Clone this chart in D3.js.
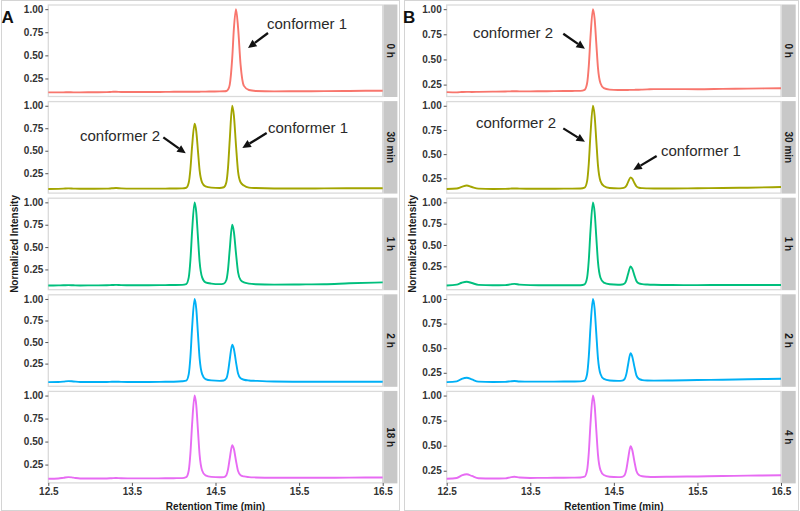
<!DOCTYPE html>
<html><head><meta charset="utf-8">
<script src="https://cdn.jsdelivr.net/npm/d3@7"></script>
<style>
body{margin:0;background:#fff;}
svg{display:block;font-family:"Liberation Sans",Arial,Helvetica,sans-serif;}
</style>
</head><body>
<svg id="c" width="800" height="511"></svg>
<script>
// ---------------- data ----------------
const times = [12.50,12.62,12.68,12.74,12.80,12.88,13.05,13.20,13.26,13.31,13.37,13.50,13.70,13.90,14.00,
  14.10,14.15,14.18,14.20,14.22,14.25,14.27,14.29,14.31,14.34,14.38,14.45,14.55,
  14.60,14.63,14.65,14.67,14.70,14.72,14.745,14.77,14.80,14.84,14.90,14.98,
  15.20,15.50,15.80,16.10,16.50];

const panelLabelsA = ["0 h","30 min","1 h","2 h","18 h"];
const panelLabelsB = ["0 h","30 min","1 h","2 h","4 h"];
const seriesColors = ["#F8766D","#A3A500","#00BF7D","#00B0F6","#E76BF3"];
const xTicks = [12.5,13.5,14.5,15.5,16.5];
const yTicks = [0.25,0.50,0.75,1.00];

// Figure A
const intensityA_0h = [0.100,0.100,0.100,0.101,0.100,0.100,0.101,0.102,0.105,0.107,0.104,0.103,0.103,0.105,0.106,
  0.107,0.107,0.107,0.107,0.107,0.107,0.107,0.107,0.107,0.108,0.108,0.109,0.110,
  0.112,0.115,0.130,0.180,0.470,0.790,1.000,0.800,0.400,0.170,0.125,0.115,
  0.110,0.112,0.113,0.115,0.118];
const intensityA_30min = [0.075,0.076,0.078,0.081,0.079,0.077,0.077,0.078,0.082,0.085,0.081,0.078,0.078,0.079,0.080,
  0.081,0.088,0.146,0.297,0.549,0.800,0.715,0.499,0.281,0.146,0.103,0.090,0.086,
  0.094,0.149,0.314,0.615,1.000,0.890,0.561,0.268,0.149,0.112,0.090,0.085,
  0.080,0.080,0.081,0.082,0.083];
const intensityA_1h = [0.070,0.072,0.073,0.075,0.073,0.071,0.072,0.073,0.076,0.078,0.075,0.073,0.073,0.075,0.076,
  0.078,0.087,0.161,0.355,0.677,1.000,0.889,0.613,0.336,0.161,0.106,0.092,0.086,
  0.092,0.132,0.251,0.471,0.750,0.670,0.431,0.218,0.132,0.105,0.092,0.085,
  0.080,0.082,0.085,0.095,0.105];
const intensityA_2h = [0.035,0.037,0.041,0.047,0.043,0.037,0.036,0.037,0.039,0.040,0.038,0.037,0.037,0.039,0.040,
  0.045,0.052,0.128,0.329,0.665,1.000,0.885,0.598,0.310,0.128,0.071,0.055,0.050,
  0.054,0.079,0.155,0.294,0.470,0.420,0.268,0.134,0.079,0.063,0.054,0.050,
  0.042,0.040,0.039,0.039,0.040];
const intensityA_18h = [0.096,0.099,0.106,0.114,0.108,0.099,0.098,0.099,0.102,0.104,0.101,0.100,0.100,0.101,0.102,
  0.103,0.114,0.186,0.374,0.687,1.000,0.893,0.624,0.356,0.186,0.132,0.116,0.112,
  0.114,0.135,0.198,0.313,0.460,0.418,0.292,0.180,0.135,0.121,0.114,0.110,
  0.106,0.106,0.107,0.108,0.110];

// Figure B
const intensityB_0h = [0.175,0.173,0.176,0.178,0.177,0.178,0.180,0.182,0.183,0.184,0.183,0.183,0.184,0.186,0.187,
  0.188,0.198,0.263,0.433,0.717,1.000,0.903,0.660,0.417,0.263,0.214,0.200,0.196,
  0.196,0.196,0.197,0.197,0.198,0.198,0.198,0.199,0.199,0.200,0.202,0.205,
  0.205,0.204,0.207,0.210,0.214];
const intensityB_30min = [0.140,0.145,0.162,0.175,0.160,0.143,0.140,0.141,0.143,0.145,0.143,0.142,0.142,0.143,0.143,
  0.144,0.153,0.221,0.401,0.700,1.000,0.897,0.640,0.384,0.221,0.170,0.150,0.146,
  0.148,0.155,0.173,0.211,0.260,0.246,0.204,0.167,0.152,0.148,0.146,0.145,
  0.145,0.147,0.150,0.153,0.160];
const intensityB_1h = [0.025,0.035,0.058,0.070,0.055,0.033,0.028,0.030,0.038,0.045,0.036,0.030,0.028,0.028,0.028,
  0.029,0.040,0.117,0.321,0.660,1.000,0.884,0.593,0.302,0.117,0.059,0.040,0.035,
  0.037,0.050,0.089,0.160,0.250,0.224,0.147,0.078,0.050,0.041,0.037,0.034,
  0.031,0.030,0.031,0.031,0.032];
const intensityB_2h = [0.155,0.163,0.188,0.200,0.183,0.160,0.157,0.158,0.163,0.167,0.162,0.160,0.160,0.161,0.162,
  0.163,0.171,0.238,0.414,0.707,1.000,0.900,0.648,0.397,0.238,0.188,0.172,0.168,
  0.171,0.188,0.239,0.332,0.450,0.416,0.315,0.224,0.188,0.176,0.171,0.170,
  0.172,0.176,0.180,0.184,0.190];
const intensityB_4h = [0.170,0.178,0.203,0.215,0.198,0.175,0.172,0.174,0.184,0.190,0.182,0.178,0.179,0.180,0.181,
  0.182,0.190,0.256,0.427,0.714,1.000,0.902,0.656,0.411,0.256,0.207,0.190,0.186,
  0.189,0.208,0.263,0.365,0.495,0.458,0.347,0.248,0.208,0.195,0.190,0.188,
  0.190,0.193,0.197,0.201,0.205];

// annotations (in data units: retention time, intensity of the panel)
const notesA = [
  {panel:0, label:"conformer 1", t:15.116, v:0.780, tailT:15.128, tailV:0.742, headT:14.889, headV:0.579},
  {panel:1, label:"conformer 2", t:12.879, v:0.612, tailT:13.876, tailV:0.649, headT:14.144, headV:0.471},
  {panel:1, label:"conformer 1", t:15.128, v:0.697, tailT:15.112, tailV:0.697, headT:14.821, headV:0.531}
];
const notesB = [
  {panel:0, label:"conformer 2", t:12.815, v:0.714, tailT:13.895, tailV:0.755, headT:14.154, headV:0.607},
  {panel:1, label:"conformer 2", t:12.850, v:0.765, tailT:13.895, tailV:0.766, headT:14.154, headV:0.627},
  {panel:1, label:"conformer 1", t:15.063, v:0.481, tailT:15.012, tailV:0.481, headT:14.732, headV:0.336}
];

// ---------------- drawing ----------------
const svg = d3.select("#c");
const FONT = '"Liberation Sans",Arial,Helvetica,sans-serif';
const PANEL_TOP = 5, PANEL_H = 91.5, PANEL_STEP = 96.6, STRIP_W = 14;

const figures = [
  {letter:"A", letterX:1.5, left:48.3, right:382.7, frameX:1, frameW:398, titleX:14,
   labels:panelLabelsA, series:[intensityA_0h,intensityA_30min,intensityA_1h,intensityA_2h,intensityA_18h], notes:notesA},
  {letter:"B", letterX:403, left:446.7, right:781, frameX:404, frameW:394, titleX:412,
   labels:panelLabelsB, series:[intensityB_0h,intensityB_30min,intensityB_1h,intensityB_2h,intensityB_4h], notes:notesB}
];

function arrow(g, x1, y1, x2, y2){
  const ang = Math.atan2(y2-y1, x2-x1);
  const L = 8.5, W = 4;
  const bx = x2 - L*Math.cos(ang), by = y2 - L*Math.sin(ang);
  g.append("line").attr("x1",x1).attr("y1",y1).attr("x2",bx).attr("y2",by)
    .attr("stroke","#111").attr("stroke-width",2.3);
  g.append("polygon").attr("points",[
    [x2,y2],
    [bx + W*Math.sin(ang), by - W*Math.cos(ang)],
    [bx - W*Math.sin(ang), by + W*Math.cos(ang)]
  ].map(p=>p.join(",")).join(" ")).attr("fill","#111");
}

figures.forEach(fig => {
  const g = svg.append("g");
  g.append("rect").attr("x",fig.frameX+0.5).attr("y",0.5).attr("width",fig.frameW).attr("height",510)
    .attr("fill","none").attr("stroke","#d4d4d4").attr("stroke-width",1);

  const x = d3.scaleLinear().domain([12.5,16.5]).range([fig.left, fig.right]);

  fig.series.forEach((vals, i) => {
    const top = PANEL_TOP + i*PANEL_STEP, bottom = top + PANEL_H;
    const [mn, mx] = d3.extent(vals);
    const pad = 0.05*(mx-mn);
    const y = d3.scaleLinear().domain([mn-pad, mx+pad]).range([bottom, top]);

    g.append("rect").attr("x",fig.left).attr("y",top).attr("width",fig.right-fig.left).attr("height",PANEL_H)
      .attr("fill","#fff").attr("stroke","#dadada").attr("stroke-width",1.3);

    const pts = times.map((t,k)=>[t, vals[k]]);
    g.append("path").datum(pts)
      .attr("d", d3.line().x(d=>x(d[0])).y(d=>y(d[1])).curve(d3.curveMonotoneX))
      .attr("fill","none").attr("stroke",seriesColors[i]).attr("stroke-width",1.9)
      .attr("stroke-linejoin","round");

    const ya = g.append("g").attr("transform",`translate(${fig.left},0)`)
      .call(d3.axisLeft(y).tickValues(yTicks).tickFormat(d3.format(".2f")).tickSize(3).tickPadding(2));
    ya.attr("font-family",FONT).attr("font-size",10);
    ya.select(".domain").remove();
    ya.selectAll(".tick line").attr("stroke","#555");
    ya.selectAll(".tick text").attr("font-weight","bold").attr("fill","#333");

    g.append("rect").attr("x",fig.right+0.7).attr("y",top-0.5).attr("width",STRIP_W).attr("height",PANEL_H+1)
      .attr("fill","#c8c8c8");
    g.append("text")
      .attr("transform",`translate(${fig.right+0.7+STRIP_W/2},${top+PANEL_H/2}) rotate(90)`)
      .attr("text-anchor","middle").attr("dy","0.35em")
      .attr("font-size",10).attr("font-weight","bold").attr("fill","#1a1a1a")
      .text(fig.labels[i]);

    fig.notes.filter(n=>n.panel===i).forEach(n => {
      g.append("text").attr("x",x(n.t)).attr("y",y(n.v))
        .attr("font-size",15).attr("fill","#2a2a2a").text(n.label);
      arrow(g, x(n.tailT), y(n.tailV), x(n.headT), y(n.headV));
    });

    if (i === fig.series.length-1) {
      const xa = g.append("g").attr("transform",`translate(0,${bottom})`)
        .call(d3.axisBottom(x).tickValues(xTicks).tickFormat(d3.format(".1f")).tickSize(3).tickPadding(2.2));
      xa.attr("font-family",FONT).attr("font-size",10);
      xa.select(".domain").remove();
      xa.selectAll(".tick line").attr("stroke","#555");
      xa.selectAll(".tick text").attr("font-weight","bold").attr("fill","#333");
      g.append("text").attr("x",(fig.left+fig.right)/2).attr("y",509.5)
        .attr("text-anchor","middle").attr("font-size",10).attr("font-weight","bold").attr("fill","#1a1a1a")
        .text("Retention Time (min)");
    }
  });

  g.append("text")
    .attr("transform",`translate(${fig.titleX},${PANEL_TOP + (4*PANEL_STEP+PANEL_H)/2}) rotate(-90)`)
    .attr("text-anchor","middle").attr("dy","0.35em")
    .attr("font-size",10).attr("font-weight","bold").attr("fill","#1a1a1a")
    .text("Normalized Intensity");

  g.append("text").attr("x",fig.letterX).attr("y",22.5)
    .attr("font-size",17).attr("font-weight","bold").attr("fill","#111").text(fig.letter);
});
</script>
</body></html>
